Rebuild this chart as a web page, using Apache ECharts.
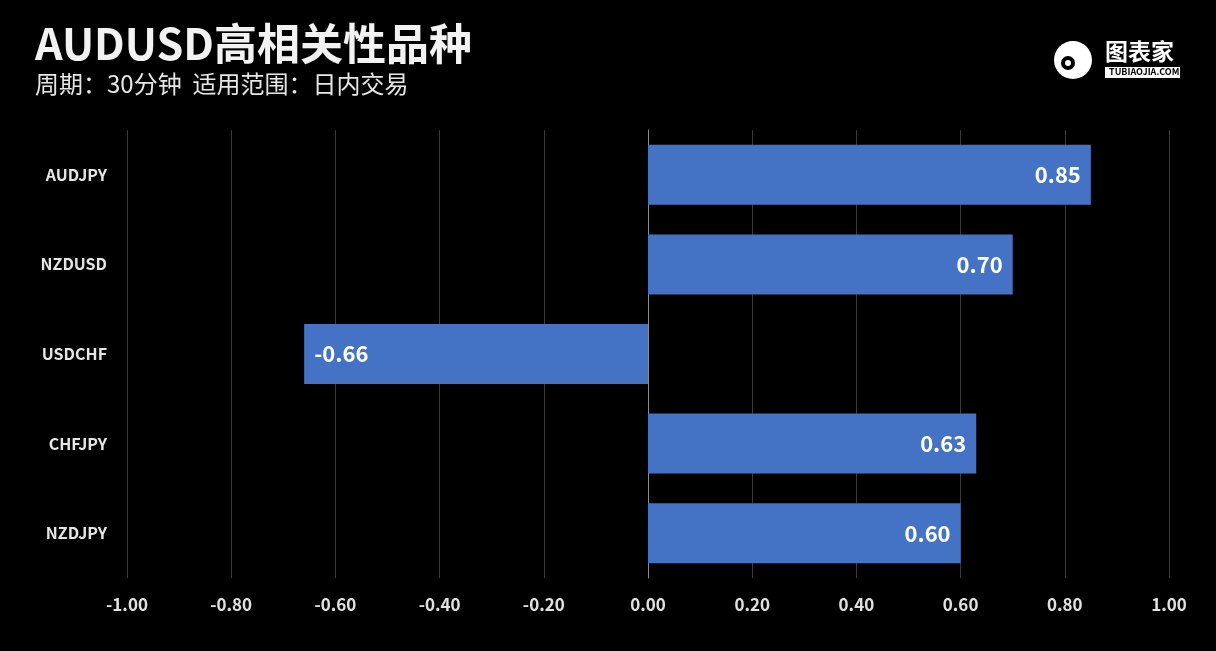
<!DOCTYPE html>
<html>
<head>
<meta charset="utf-8">
<script src="https://cdn.jsdelivr.net/npm/echarts@6/dist/echarts.min.js"></script>
<style>
  html, body { margin: 0; padding: 0; background: #000; }
  #chart { width: 1216px; height: 651px; }
</style>
</head>
<body>
<div id="chart"></div>
<script>
// 数据
const categories = ['AUDJPY', 'NZDUSD', 'USDCHF', 'CHFJPY', 'NZDJPY'];
const values = [0.85, 0.70, -0.66, 0.63, 0.60];
const titleText = 'AUDUSD高相关性品种';
const subText = '周期：30分钟  适用范围：日内交易';

const font = '"Noto Sans CJK SC", "Noto Sans", sans-serif';

let myChart = echarts.init(document.getElementById('chart'));
myChart.setOption({
  backgroundColor: '#000',
  textStyle: { fontFamily: font },
  title: {
    text: titleText,
    subtext: subText,
    left: 30,
    top: 17,
    itemGap: 7,
    textStyle: { color: '#f2f2f2', fontSize: 43, fontWeight: 'bold', fontFamily: font },
    subtextStyle: { color: '#e6e6e6', fontSize: 24, fontFamily: font }
  },
  graphic: [
    {
      type: 'text', left: 1105, top: 40,
      style: { text: '图表家', fill: '#fff', font: 'bold 23px ' + font }
    },
    {
      type: 'rect', left: 1105, top: 67, shape: { width: 75, height: 11 },
      style: { fill: '#fff' }
    },
    {
      type: 'text', left: 1109, top: 67,
      style: { text: 'TUBIAOJIA.COM', fill: '#000', font: 'bold 9px ' + font }
    },
    {
      type: 'circle', left: 1054, top: 41, shape: { r: 19 },
      style: { fill: '#fff' }
    },
    {
      type: 'circle', left: 1061, top: 56, shape: { r: 7 },
      style: { fill: '#000' }
    },
    {
      type: 'circle', left: 1065, top: 60, shape: { r: 3 },
      style: { fill: '#fff' }
    }
  ],
  grid: {
    left: 127,
    right: 47,
    top: 130,
    bottom: 73,
    containLabel: false
  },
  xAxis: {
    type: 'value',
    min: -1,
    max: 1,
    interval: 0.2,
    axisLine: { show: false },
    axisTick: { show: false },
    splitLine: { lineStyle: { color: '#3a3a3a', width: 1 } },
    axisLabel: {
      color: '#e0e0e0',
      fontSize: 17,
      fontWeight: 'bold',
      margin: 18,
      formatter: v => v.toFixed(2)
    }
  },
  yAxis: {
    type: 'category',
    inverse: true,
    data: categories,
    axisLine: { show: true, onZero: true, lineStyle: { color: '#8c8c8c', width: 1 } },
    axisTick: { show: false },
    axisLabel: {
      color: '#e6e6e6',
      fontSize: 16,
      fontWeight: 'bold',
      margin: 20,
      onZero: false
    }
  },
  series: [
    {
      type: 'bar',
      barCategoryGap: '33%',
      itemStyle: { color: '#4472C4' },
      data: values.map(v => ({
        value: v,
        label: { position: v < 0 ? 'insideLeft' : 'insideRight' }
      })),
      label: {
        show: true,
        color: '#fff',
        fontSize: 22,
        fontWeight: 'bold',
        distance: 10,
        formatter: p => p.value.toFixed(2)
      }
    }
  ]
});
</script>
</body>
</html>
